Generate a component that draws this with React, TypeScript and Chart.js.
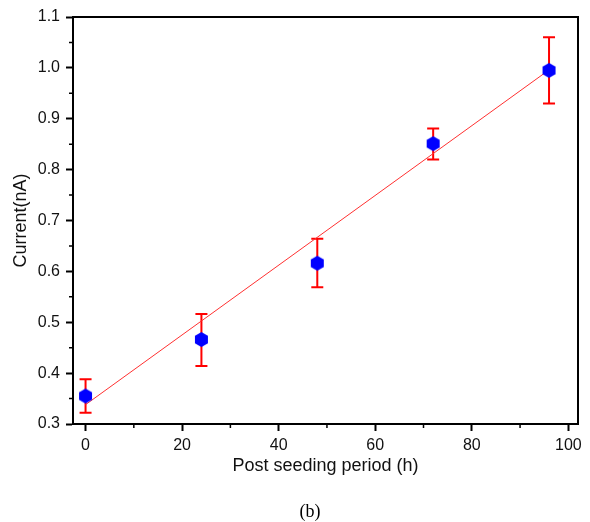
import React, { useEffect, useRef } from 'react';
import { Chart, registerables } from 'chart.js';

Chart.register(...registerables);

const hours = [0, 24, 48, 72, 96];
const current = [0.355, 0.466, 0.616, 0.851, 0.995];
const errUpper = [0.388, 0.516, 0.664, 0.881, 1.06];
const errLower = [0.322, 0.414, 0.569, 0.82, 0.93];
const fitX = [0, 96];
const fitY = [0.338, 0.996];
const xTicks = [0, 20, 40, 60, 80, 100];
const xMinorTicks = [10, 30, 50, 70, 90];
const yTicks = [0.3, 0.4, 0.5, 0.6, 0.7, 0.8, 0.9, 1.0, 1.1];
const yMinorTicks = [0.35, 0.45, 0.55, 0.65, 0.75, 0.85, 0.95, 1.05];
const xTitle = 'Post seeding period (h)';
const yTitle = 'Current(nA)';
const caption = '(b)';

function makeHex(r: number, color: string) {
  const size = Math.ceil(r * 2) + 2;
  const c = document.createElement('canvas');
  c.width = size;
  c.height = size;
  const ctx = c.getContext('2d')!;
  ctx.beginPath();
  for (let i = 0; i < 6; i++) {
    const a = -Math.PI / 2 + (i * Math.PI) / 3;
    const px = size / 2 + r * Math.cos(a);
    const py = size / 2 + r * Math.sin(a);
    if (i === 0) ctx.moveTo(px, py);
    else ctx.lineTo(px, py);
  }
  ctx.closePath();
  ctx.fillStyle = color;
  ctx.fill();
  return c;
}

const errorBarPlugin = {
  id: 'errorBars',
  beforeDatasetsDraw(chart: any) {
    const { ctx, scales } = chart;
    const xs = scales.x;
    const ys = scales.y;
    ctx.save();
    ctx.strokeStyle = '#ff0000';
    ctx.lineWidth = 2;
    hours.forEach((h, i) => {
      const x = xs.getPixelForValue(h);
      const yt = ys.getPixelForValue(errUpper[i]);
      const yb = ys.getPixelForValue(errLower[i]);
      const cap = 6;
      ctx.beginPath();
      ctx.moveTo(x, yt);
      ctx.lineTo(x, yb);
      ctx.moveTo(x - cap, yt);
      ctx.lineTo(x + cap, yt);
      ctx.moveTo(x - cap, yb);
      ctx.lineTo(x + cap, yb);
      ctx.stroke();
    });
    ctx.restore();
  },
};

const framePlugin = {
  id: 'frame',
  afterDraw(chart: any) {
    const { ctx, chartArea, scales } = chart;
    const { left, right, top, bottom } = chartArea;
    ctx.save();
    ctx.strokeStyle = '#000';
    ctx.lineWidth = 2;
    ctx.beginPath();
    ctx.moveTo(left, top);
    ctx.lineTo(right, top);
    ctx.lineTo(right, bottom);
    ctx.stroke();
    ctx.lineWidth = 1.5;
    ctx.beginPath();
    xMinorTicks.forEach((v) => {
      const x = scales.x.getPixelForValue(v);
      ctx.moveTo(x, bottom);
      ctx.lineTo(x, bottom + 4);
    });
    yMinorTicks.forEach((v) => {
      const y = scales.y.getPixelForValue(v);
      ctx.moveTo(left, y);
      ctx.lineTo(left - 4, y);
    });
    ctx.stroke();
    ctx.fillStyle = '#000';
    ctx.font = '18px "Liberation Serif", serif';
    ctx.textAlign = 'center';
    ctx.textBaseline = 'alphabetic';
    ctx.fillText(caption, 310, 517);
    ctx.restore();
  },
};

export default function App() {
  const ref = useRef<HTMLCanvasElement | null>(null);

  useEffect(() => {
    if (!ref.current) return;
    const hex = makeHex(7.5, '#0000ff');
    const font = '"Liberation Sans", Arial, sans-serif';
    const chart = new Chart(ref.current, {
      type: 'scatter',
      data: {
        datasets: [
          {
            label: 'fit',
            type: 'line',
            data: fitX.map((x, i) => ({ x, y: fitY[i] })),
            borderColor: '#ff3030',
            borderWidth: 1,
            pointRadius: 0,
            fill: false,
            order: 2,
          } as any,
          {
            label: 'data',
            data: hours.map((x, i) => ({ x, y: current[i] })),
            pointStyle: hex as any,
            pointRadius: 7.5,
            backgroundColor: '#0000ff',
            borderWidth: 0,
            order: 1,
          },
        ],
      },
      options: {
        animation: false,
        responsive: false,
        maintainAspectRatio: false,
        layout: { padding: { left: 0, top: 17, right: 12, bottom: 45 } },
        plugins: {
          legend: { display: false },
          tooltip: { enabled: false },
        },
        scales: {
          x: {
            type: 'linear',
            min: -2.6,
            max: 102,
            afterBuildTicks: (scale: any) => {
              scale.ticks = xTicks.map((v) => ({ value: v }));
            },
            afterFit: (scale: any) => {
              scale.height = 53;
            },
            grid: {
              display: true,
              drawOnChartArea: false,
              drawTicks: true,
              tickLength: 7,
              tickColor: '#000',
              tickWidth: 2,
            },
            border: { display: true, color: '#000', width: 2 },
            ticks: {
              color: '#111',
              font: { family: font, size: 16 },
              padding: 5,
              maxRotation: 0,
              callback: (v: any) => String(v),
            },
            title: {
              display: true,
              text: xTitle,
              color: '#111',
              font: { family: font, size: 18 },
              padding: { top: 0, bottom: 0 },
            },
          },
          y: {
            type: 'linear',
            min: 0.3,
            max: 1.1,
            afterBuildTicks: (scale: any) => {
              scale.ticks = yTicks.map((v) => ({ value: v }));
            },
            afterFit: (scale: any) => {
              scale.width = 73;
            },
            grid: {
              display: true,
              drawOnChartArea: false,
              drawTicks: true,
              tickLength: 7,
              tickColor: '#000',
              tickWidth: 2,
            },
            border: { display: true, color: '#000', width: 2 },
            ticks: {
              color: '#111',
              font: { family: font, size: 16 },
              padding: 6,
              callback: (v: any) => Number(v).toFixed(1),
            },
            title: {
              display: true,
              text: yTitle,
              color: '#111',
              font: { family: font, size: 18 },
              padding: { top: 10, bottom: 0 },
            },
          },
        },
      },
      plugins: [errorBarPlugin, framePlugin],
    });
    return () => chart.destroy();
  }, []);

  return (
    <div style={{ position: 'absolute', left: 0, top: 0, width: 590, height: 522, background: '#fff' }}>
      <canvas ref={ref} width={590} height={522} style={{ display: 'block' }} />
    </div>
  );
}
